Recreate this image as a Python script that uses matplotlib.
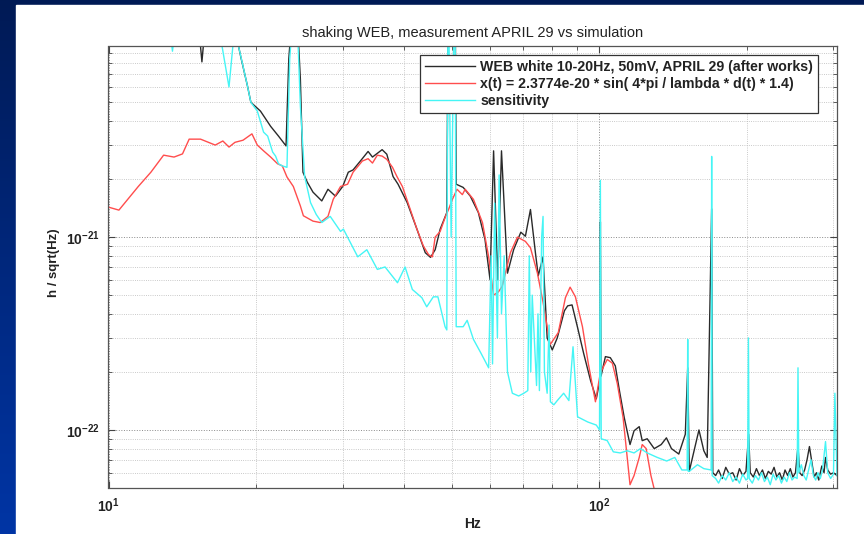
import numpy as np
import matplotlib
matplotlib.use("Agg")
import matplotlib.pyplot as plt
from matplotlib.colors import LinearSegmentedColormap
from matplotlib.ticker import FuncFormatter, NullFormatter, LogLocator, FixedLocator

plt.rcParams['font.family'] = ['Liberation Sans', 'DejaVu Sans']
plt.rcParams['mathtext.fontset'] = 'custom'
plt.rcParams['mathtext.rm'] = 'Liberation Sans'
plt.rcParams['mathtext.bf'] = 'Liberation Sans:bold'

# amplitudes below are in units of 1e-22 / sqrt(Hz)
UNIT = 1e-22

# measurement, WEB white 10-20Hz (black)
f_meas = [10, 12, 14, 15.2, 15.5, 15.8, 17.0, 18.4, 18.6, 19.2,
          19.5, 20.4, 21.4, 22.2, 23.0, 23.3, 23.7, 24.2, 24.6, 24.9,
          25.4, 26.1, 27.2, 28.0, 29.0, 30.0, 30.8, 31.5, 32.6, 33.8,
          34.5, 36.1, 36.9, 38.0, 38.9, 40.6, 42.5, 44.2, 45.3, 46.3,
          47.4, 48.9, 49.3, 50.8, 51.1, 52.8, 54.6, 56.7, 58.5, 59.9,
          60.9, 62.1, 63.2, 65.0, 66.9, 69.2, 70.7, 72.4, 74.1, 75.1,
          76.8, 78.3, 80.2, 82.1, 84.9, 86.2, 88.0, 90.3, 92.9, 96.0,
          98.6, 100.2, 100.5, 100.8, 102.9, 105.3, 107.8, 109.9, 112.4, 115.5,
          117.7, 120.6, 122.3, 125.2, 129.4, 133.7, 137.0, 140.3, 145.2, 149.7,
          151.4, 152.5, 156.0, 159.6, 163.3, 165.9, 169.4, 170.3, 172.6, 175,
          178, 181, 184, 187, 190, 193, 196, 199, 201.5, 203,
          206, 209, 212, 215, 218, 221, 224, 227, 230, 233,
          236, 239, 242, 245, 248, 251, 254, 256, 259, 262,
          265, 268, 271, 274, 277, 280, 284, 287, 289, 292,
          296, 300, 305]
h_meas = [300, 250, 180, 140, 81, 140, 200, 98, 86, 60.5,
          50, 45, 37.5, 33.4, 29.7, 84, 150, 150, 66, 21.7,
          19.3, 17.1, 15.4, 17.7, 16.3, 18.3, 21.7, 22.3, 24.8, 27.8,
          26.0, 28.4, 26.9, 20.6, 18.8, 15.1, 11.0, 8.3, 7.85, 8.6,
          11.0, 13.4, 300, 300, 18.8, 18.1, 16.3, 13.4, 9.7, 6.0,
          28, 6.0, 28, 6.5, 8.6, 10.6, 10.1, 13.9, 8.3, 6.3,
          7.9, 3.0, 2.6, 3.0, 4.15, 4.4, 4.45, 3.4, 2.5, 1.8,
          1.45, 1.8, 12, 1.9, 2.4, 2.37, 2.15, 1.6, 1.16, 0.84,
          0.99, 1.04, 0.88, 0.9, 0.8, 0.84, 0.91, 0.8, 0.75, 0.95,
          2.1, 0.61, 0.78, 1.0, 0.78, 0.72, 14, 0.6, 0.58, 0.62,
          0.56, 0.64, 0.59, 0.6, 0.55, 0.63, 0.58, 0.61, 0.95, 0.6,
          0.57, 0.63, 0.58, 0.62, 0.56, 0.61, 0.59, 0.64, 0.57, 0.6,
          0.55, 0.62, 0.58, 0.63, 0.57, 0.6, 0.82, 0.6, 0.58, 0.62,
          0.7, 0.82, 0.68, 0.57, 0.6, 0.55, 0.65, 0.6, 0.72, 0.62,
          0.59, 0.6, 0.58]

# simulation x(t) (red)
f_sim = [10, 10.5, 11.5, 12.2, 12.95, 13.6, 14.15, 14.6, 15.4, 16.5,
         17.1, 17.6, 18.1, 18.8, 19.6, 20.1, 20.7, 21.4, 22.1, 22.6,
         23.1, 23.8, 24.6, 24.95, 26.1, 27.0, 28.0, 28.7, 29.7, 30.7,
         31.5, 32.9, 33.8, 34.5, 35.3, 36.1, 36.9, 37.9, 38.7, 39.7,
         41.2, 42.5, 43.8, 44.9, 45.7, 46.3, 47.4, 48.6, 49.3, 50.2,
         51.3, 52.6, 53.3, 55.4, 57.8, 59.5, 60.9, 62.3, 63.4, 65.9,
         68.1, 70.7, 72.4, 74.8, 76.8, 79.4, 82.5, 85.3, 87.2, 89.4,
         92.4, 95.0, 98.2, 100.5, 103.8, 106.3, 108.8, 111.8, 115.5, 117.7,
         120.6, 122.3, 124.6, 127.4, 130, 133]
h_sim = [14.3, 13.8, 18.3, 21.7, 26.6, 26.0, 27.0, 32.2, 32.2, 30.0,
         31.5, 29.3, 31.0, 31.8, 34.3, 30.0, 28.0, 26.0, 24.0, 23.4,
         20.5, 18.3, 14.5, 12.9, 12.1, 11.9, 12.8, 15.7, 18.3, 18.8,
         21.7, 24.8, 25.5, 24.2, 26.6, 26.3, 25.3, 23.0, 20.6, 18.3,
         13.9, 11.0, 9.0, 8.1, 7.9, 10.0, 10.7, 12.8, 13.9, 15.7,
         17.7, 16.6, 17.7, 15.7, 11.9, 7.9, 5.0, 5.2, 5.55, 8.3,
         10.0, 9.5, 8.8, 6.5, 4.6, 2.77, 3.2, 4.85, 5.5, 4.9,
         3.43, 2.2, 1.4, 1.98, 2.32, 2.22, 1.74, 1.16, 0.52, 0.58,
         0.72, 0.84, 0.8, 0.58, 0.47, 0.34]

# sensitivity (cyan)
f_sens = [10, 12, 13.2, 13.5, 13.8, 15.0, 16.9, 17.6, 18.0, 18.4,
          19.2, 19.5, 20.1, 20.7, 21.1, 21.6, 21.9, 22.2, 22.6, 23.1,
          23.4, 23.8, 24.2, 24.6, 25.1, 25.8, 26.5, 27.2, 28.3, 29.7,
          30.1, 32.2, 33.6, 35.3, 36.6, 38.8, 40.2, 41.6, 43.5, 44.5,
          45.9, 46.9, 48.5, 48.9, 49.2, 49.9, 50.8, 51.1, 52.8, 53.8,
          55.4, 57.4, 59.5, 60.2, 60.6, 61.2, 62.0, 62.5, 63.2, 64.0,
          65.0, 66.5, 68.5, 70.2, 71.5, 72.0, 72.5, 73.0, 74.5, 75.0,
          75.5, 76.3, 76.8, 77.3, 78.3, 79.0, 79.5, 80.8, 82.1, 84.6,
          86.7, 88.4, 90.3, 94.7, 98.6, 100.1, 100.5, 100.9, 103.8, 106.8,
          110.3, 114.0, 117.7, 121.3, 125.2, 131.3, 137.2, 142.5, 147.3, 151.0,
          151.4, 151.8, 152.5, 158.5, 163.3, 169.0, 169.4, 169.8, 172.6, 175,
          178, 181, 184, 187, 190, 193, 196, 199, 200.5, 201.3,
          202, 205, 208, 211, 214, 217, 220, 223, 226, 229,
          232, 235, 238, 241, 244, 247, 250, 253, 254, 255,
          258, 261, 264, 267, 270, 273, 276, 279, 282, 285,
          289, 292, 296, 300, 302, 305]
h_sens = [300, 250, 150, 92, 150, 250, 110, 60, 110, 98,
          60.5, 50, 45, 35, 33.4, 27.6, 26.3, 24, 23.4, 23,
          84, 150, 150, 47.7, 20.6, 15.1, 13.1, 11.9, 12.8, 10.7,
          11, 7.9, 8.6, 6.8, 7.0, 5.8, 7.0, 5.35, 4.85, 4.35,
          4.9, 4.9, 3.43, 3.3, 300, 10, 300, 3.43, 3.43, 3.7,
          2.95, 2.5, 2.1, 8, 2.2, 15, 3, 21, 4, 8,
          2, 1.55, 1.5, 1.55, 1.6, 8, 2, 5, 1.7, 4,
          1.6, 10, 12.8, 2, 1.55, 3.5, 1.4, 1.35, 1.42, 1.55,
          1.42, 2.7, 1.17, 1.1, 1.06, 1.0, 19.7, 0.9, 0.88, 0.77,
          0.76, 0.78, 0.76, 0.8, 0.76, 0.72, 0.69, 0.72, 0.62, 0.62,
          2.95, 0.61, 0.61, 0.66, 0.63, 0.62, 26.2, 0.58, 0.56, 0.53,
          0.58, 0.55, 0.6, 0.54, 0.57, 0.53, 0.59, 0.55, 0.56, 3.0,
          0.56, 0.53, 0.58, 0.55, 0.6, 0.54, 0.57, 0.52, 0.59, 0.55,
          0.58, 0.53, 0.57, 0.54, 0.6, 0.55, 0.57, 0.56, 2.1, 0.6,
          0.66, 0.58, 0.55, 0.62, 0.7, 0.58, 0.55, 0.6, 0.56, 0.62,
          0.87, 0.6, 0.56, 0.59, 1.55, 0.58]

labels = ["WEB white 10-20Hz, 50mV, APRIL 29 (after works)",
          "x(t) = 2.3774e-20 * sin( 4*pi / lambda * d(t) * 1.4)",
          "sensitivity"]
colors = ["#2a2a2a", "#ff4d4d", "#45f5f5"]
x_major = [10, 100]
y_major = [1e-22, 1e-21]

W, H = 864, 534
fig = plt.figure(figsize=(W / 100, H / 100), dpi=100)

# slide background: dark blue gradient with the white "page" on it
bg = fig.add_axes([0, 0, 1, 1])
bg.axis("off")
cmap = LinearSegmentedColormap.from_list("slide", ["#001a55", "#0035a5"])
bg.imshow(np.linspace(0, 1, 256).reshape(-1, 1), aspect="auto", cmap=cmap,
          extent=[0, 1, 0, 1])
bg.add_patch(plt.Rectangle((16 / W, 0), 1, 1 - 5 / H, color="white",
                           transform=bg.transAxes))
bg.set_xlim(0, 1); bg.set_ylim(0, 1)

ax = fig.add_axes([108.5 / W, 1 - 488 / H, (837 - 108.5) / W, (488 - 45.5) / H])
series = [(f_meas, h_meas), (f_sim, h_sim), (f_sens, h_sens)]
for (f, h), c, lab in zip(series, colors, labels):
    ax.loglog(f, np.array(h) * UNIT, color=c, lw=1.0, label=lab)

ax.set_xlim(10, 305)
ax.set_ylim(5e-23, 9.85e-21)

ax.xaxis.set_major_locator(FixedLocator(x_major))
ax.yaxis.set_major_locator(FixedLocator(y_major))
ax.xaxis.set_minor_locator(LogLocator(base=10, subs=np.arange(2, 10)))
ax.yaxis.set_minor_locator(LogLocator(base=10, subs=np.arange(2, 10)))
fmt = FuncFormatter(lambda v, p: r"$\mathbf{10^{%d}}$" % round(np.log10(v)))
ax.xaxis.set_major_formatter(fmt)
ax.yaxis.set_major_formatter(fmt)
ax.xaxis.set_minor_formatter(NullFormatter())
ax.yaxis.set_minor_formatter(NullFormatter())

ax.grid(True, which="major", ls=":", color="#8a8a8a", lw=0.7)
ax.grid(True, which="minor", ls=":", color="#b8b8b8", lw=0.6)
ax.tick_params(which="both", direction="in", top=True, right=True,
               colors="#444", labelcolor="#222", labelsize=10)
ax.tick_params(which="major", length=5, pad=6)
ax.tick_params(which="minor", length=3)
for s in ax.spines.values():
    s.set_color("#555")
    s.set_linewidth(0.9)

ax.set_title("shaking WEB, measurement APRIL 29 vs simulation",
             fontsize=10.5, color="#222", pad=6)
ax.set_xlabel("Hz", fontsize=10, fontweight="bold", color="#222")
ax.set_ylabel("h / sqrt(Hz)", fontsize=9.5, fontweight="bold", color="#222")
ax.xaxis.set_label_coords(0.5, -0.066)
ax.yaxis.set_label_coords(-0.067, 0.51)

leg = ax.legend(loc="upper right", bbox_to_anchor=(818 / W, 1 - 55 / H),
                bbox_transform=fig.transFigure, prop={"size": 10.2, "weight": "bold"},
                fancybox=False, framealpha=1, edgecolor="#333",
                borderaxespad=0, borderpad=0.35, handlelength=3.5,
                handletextpad=0.4, labelspacing=0.2)
leg.get_frame().set_linewidth(0.9)
for t in leg.get_texts():
    t.set_color("#222")

fig.savefig("out.png", dpi=100)
